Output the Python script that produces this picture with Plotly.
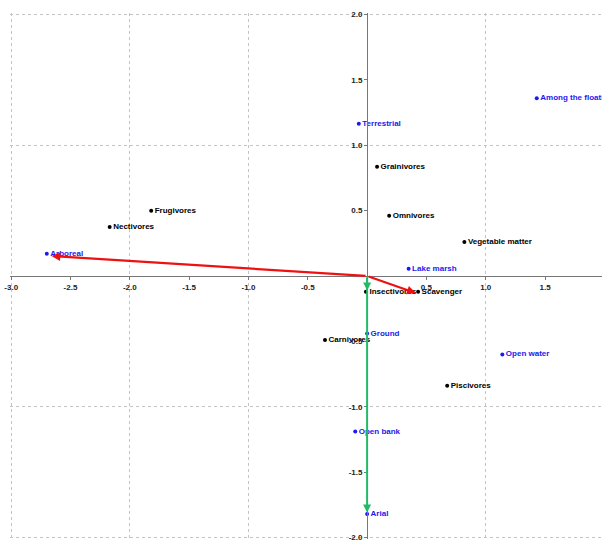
import plotly.graph_objects as go

# Feeding guilds (black)
guild_names = ["Frugivores", "Nectivores", "Grainivores", "Omnivores", "Vegetable matter",
               "Insectivores", "Scavenger", "Carnivores", "Piscivores"]
guild_x = [-1.82, -2.17, 0.084, 0.186, 0.82, -0.01, 0.43, -0.355, 0.675]
guild_y = [0.50, 0.375, 0.835, 0.46, 0.26, -0.12, -0.12, -0.49, -0.84]

# Habitats (blue)
habitat_names = ["Arboreal", "Terrestrial", "Among the floating vegetation", "Lake marsh",
                 "Ground", "Open water", "Open bank", "Arial"]
habitat_x = [-2.70, -0.07, 1.43, 0.35, 0.0, 1.14, -0.10, 0.0]
habitat_y = [0.17, 1.165, 1.36, 0.055, -0.44, -0.60, -1.19, -1.82]

# Vectors
red_vec_x = [-2.66, 0.41]
red_vec_y = [0.153, -0.13]
green_vec_x = [0.0, 0.0]
green_vec_y = [-0.11, -1.81]

x_ticks = [-3.0, -2.5, -2.0, -1.5, -1.0, -0.5, 0.5, 1.0, 1.5]
y_ticks = [2.0, 1.5, 1.0, 0.5, -0.5, -1.0, -1.5, -2.0]

FONT = "Liberation Sans Narrow, Arial Narrow, Liberation Sans, Arial, sans-serif"
BLUE = "#1a1aee"

fig = go.Figure()
fig.add_trace(go.Scatter(
    x=guild_x, y=guild_y, mode="markers+text", text=guild_names,
    textposition="middle right",
    marker=dict(color="black", size=4),
    textfont=dict(family=FONT, size=8, color="black", weight="bold"),
    cliponaxis=True, showlegend=False))
fig.add_trace(go.Scatter(
    x=habitat_x, y=habitat_y, mode="markers+text", text=habitat_names,
    textposition="middle right",
    marker=dict(color=BLUE, size=4),
    textfont=dict(family=FONT, size=8, color=BLUE, weight="bold"),
    cliponaxis=True, showlegend=False))

for vx, vy in zip(red_vec_x, red_vec_y):
    fig.add_annotation(x=vx, y=vy, ax=0, ay=0, xref="x", yref="y", axref="x", ayref="y",
                       showarrow=True, arrowhead=2, arrowsize=0.8, arrowwidth=2.2,
                       arrowcolor="#ee1111", text="")
for vx, vy in zip(green_vec_x, green_vec_y):
    fig.add_annotation(x=vx, y=vy, ax=0, ay=0, xref="x", yref="y", axref="x", ayref="y",
                       showarrow=True, arrowhead=2, arrowsize=0.8, arrowwidth=2,
                       arrowcolor="#22bb66", text="")

xr = [-3.01, 1.98]
yr = [-2.012, 2.012]

axis_common = dict(
    showgrid=False, zeroline=False, showline=True, linecolor="#777777",
    linewidth=1, anchor="free", ticks="outside", ticklen=3, tickcolor="#777777",
    automargin=False, ticklabeloverflow="allow",
    tickfont=dict(family=FONT, size=8, color="#222222", weight="bold"),
    minor=dict(dtick=1, tick0=0, showgrid=True, griddash="dot",
               gridcolor="#c4c4c4", gridwidth=1, ticks=""),
)

fig.update_layout(
    width=602, height=541,
    margin=dict(l=10, r=0, t=13, b=2, autoexpand=False),
    paper_bgcolor="white", plot_bgcolor="white",
    xaxis=dict(range=xr, tickvals=x_ticks, ticktext=[f"{v:.1f}" for v in x_ticks],
               position=0.5, **axis_common),
    yaxis=dict(range=yr, tickvals=y_ticks, ticktext=[f"{v:.1f}" for v in y_ticks],
               position=(0 - xr[0]) / (xr[1] - xr[0]), **axis_common),
)

fig.write_html("out.html", config={"displayModeBar": False},
               post_script="document.body.style.margin='0';")
